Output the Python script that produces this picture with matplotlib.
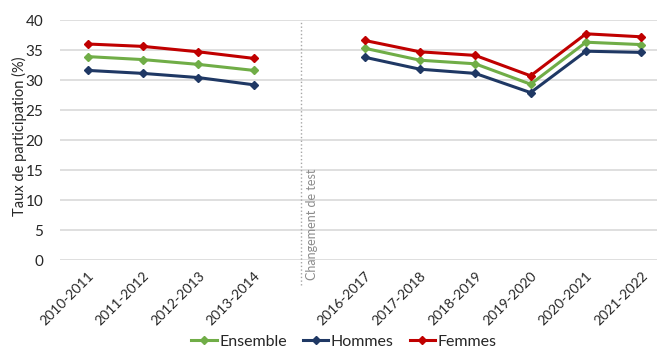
import matplotlib
matplotlib.use("Agg")
import matplotlib.pyplot as plt
import numpy as np

plt.rcParams['font.family'] = ['Lato', 'DejaVu Sans']

# School years (blank slot marks the test change between the two periods)
years = ['2010-2011', '2011-2012', '2012-2013', '2013-2014', '',
         '2016-2017', '2017-2018', '2018-2019', '2019-2020', '2020-2021', '2021-2022']

# Participation rates (%) for each period
ensemble_a = [33.9, 33.4, 32.6, 31.6]
hommes_a = [31.6, 31.1, 30.4, 29.2]
femmes_a = [36.0, 35.6, 34.7, 33.6]

ensemble_b = [35.3, 33.3, 32.7, 29.3, 36.3, 35.9]
hommes_b = [33.8, 31.8, 31.1, 27.9, 34.8, 34.6]
femmes_b = [36.6, 34.7, 34.1, 30.7, 37.7, 37.2]

series = [
    ('Ensemble', ensemble_a, ensemble_b, '#70AD47'),
    ('Hommes', hommes_a, hommes_b, '#1F3864'),
    ('Femmes', femmes_a, femmes_b, '#C00000'),
]

W, H = 657, 349
fig = plt.figure(figsize=(W / 100, H / 100), dpi=100)
ax = fig.add_axes([60 / W, 89 / H, 609 / W, 240 / H])

x = np.arange(len(years))
xa = x[:4]
xb = x[5:]

handles = []
for name, va, vb, col in series:
    h, = ax.plot(xa, va, color=col, lw=2.2, marker='D', ms=4.5, label=name)
    ax.plot(xb, vb, color=col, lw=2.2, marker='D', ms=4.5)
    handles.append(h)

ax.set_xlim(-0.5, len(years) - 0.5)
ax.set_ylim(0, 40)
ax.set_yticks(np.arange(0, 41, 5))
ax.grid(axis='y', color='#D9D9D9', lw=1.2)
ax.set_axisbelow(True)
for s in ax.spines.values():
    s.set_visible(False)

ax.set_xticks(x)
ax.set_xticklabels(years, rotation=45, ha='right', rotation_mode='anchor',
                   fontsize=10, color='#262626')
ax.tick_params(axis='x', length=0, pad=7)
ax.tick_params(axis='y', length=0, pad=12, labelsize=11, labelcolor='#262626')
ax.set_ylabel('Taux de participation (%)', fontsize=10.5, color='#262626')
ax.yaxis.set_label_coords(-0.054, 0.515)

# Break between the two test versions
ax.axvline(3.86, ymin=-0.104, ymax=1, color='#A6A6A6', lw=1, ls=':', clip_on=False)
ax.text(4.05, -3.3, 'Changement de test', rotation=90, ha='center', va='bottom',
        fontsize=9, color='#8C8C8C')

fig.legend(handles=handles, loc='lower center', bbox_to_anchor=(344 / W, -0.04),
           ncol=3, frameon=False, fontsize=11.5, handlelength=1.6,
           handletextpad=0.15, columnspacing=1.0, labelcolor='#262626')

fig.savefig('out.png', dpi=100)
